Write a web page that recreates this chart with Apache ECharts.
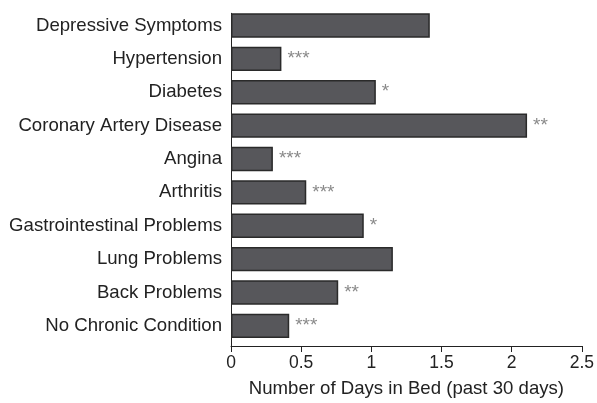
<!DOCTYPE html>
<html>
<head>
<meta charset="utf-8">
<script src="https://cdn.jsdelivr.net/npm/echarts@6/dist/echarts.min.js"></script>
<style>html,body{margin:0;padding:0;background:#fff;}#c{width:597px;height:403px;}</style>
</head>
<body>
<div id="c"></div>
<script>
const categories = ["Depressive Symptoms","Hypertension","Diabetes","Coronary Artery Disease","Angina","Arthritis","Gastrointestinal Problems","Lung Problems","Back Problems","No Chronic Condition"];
const values = [1.40, 0.355, 1.02, 2.085, 0.295, 0.53, 0.935, 1.14, 0.755, 0.41];
const significance = ["", "***", "*", "**", "***", "***", "*", "", "**", "***"];
const xTicks = {min: 0, max: 2.5, interval: 0.5};
const xName = "Number of Days in Bed (past 30 days)";

const chart = echarts.init(document.getElementById('c'), null, {renderer: 'canvas'});
const font = 'Liberation Sans, Arial, sans-serif';
chart.setOption({
  animation: false,
  grid: [
    {left: 231, top: 8.8, width: 355, height: 333.7, containLabel: false},
    {left: 231, top: 13.3, width: 355, height: 334.7, containLabel: false}
  ],
  xAxis: [
    {gridIndex: 0, type: 'value', min: xTicks.min, max: xTicks.max, show: false},
    {gridIndex: 1, type: 'value', min: xTicks.min, max: xTicks.max, interval: xTicks.interval,
     axisLine: {show: true, lineStyle: {color: '#222', width: 1}},
     axisTick: {show: true, length: 6, lineStyle: {color: '#222'}},
     splitLine: {show: false},
     axisLabel: {color: '#222', fontSize: 17.5, fontFamily: font, margin: 8},
     name: xName, nameLocation: 'middle', nameGap: 33,
     nameTextStyle: {color: '#222', fontSize: 18.6, fontFamily: font}}
  ],
  yAxis: [
    {gridIndex: 0, type: 'category', data: categories, inverse: true,
     axisLine: {show: false}, axisTick: {show: false},
     axisLabel: {color: '#222', fontSize: 18.6, fontFamily: font, margin: 9}},
    {gridIndex: 1, type: 'value', min: 0, max: 1,
     axisLine: {show: true, lineStyle: {color: '#222', width: 1}},
     axisTick: {show: false}, axisLabel: {show: false}, splitLine: {show: false}}
  ],
  series: [{
    type: 'bar', xAxisIndex: 0, yAxisIndex: 0,
    data: values,
    barWidth: '73%',
    itemStyle: {color: '#57575b', borderColor: '#2a2a2a', borderWidth: 1.5},
    label: {show: true, position: 'right', distance: 6,
      formatter: p => significance[p.dataIndex],
      color: '#8a8a8a', fontSize: 19, fontFamily: font}
  }]
});
</script>
</body>
</html>
